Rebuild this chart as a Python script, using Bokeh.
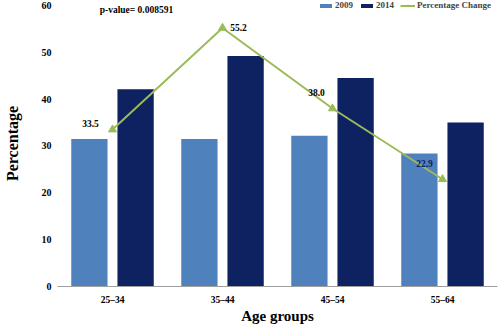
from bokeh.plotting import figure
from bokeh.models import (FactorRange, Range1d, FixedTicker, ColumnDataSource,
                          Legend, LegendItem, Label, LabelSet)
from bokeh.transform import dodge
from bokeh.embed import file_html
from bokeh.resources import INLINE

categories = ["25–34", "35–44", "45–54", "55–64"]
values_2009 = [31.5, 31.5, 32.2, 28.4]
values_2014 = [42.1, 49.2, 44.5, 35.0]
pct_change = [33.5, 55.2, 38.0, 22.9]
pct_labels = ["33.5", "55.2", "38.0", "22.9"]
y_ticks = [0, 10, 20, 30, 40, 50, 60]

# label placement (style, in screen px)
label_dx = [-22, 16, -16, -18]
label_dy = [6, 0, 16, 16]
label_colors = ["#000000", "#000000", "#000000", "#0E2160"]

FONT = "Liberation Serif"
C2009 = "#4F81BD"
C2014 = "#0E2160"
CLINE = "#9BBB59"

src = ColumnDataSource(dict(cat=categories, v09=values_2009, v14=values_2014,
                            pc=pct_change, lab=pct_labels, dx=label_dx, dy=label_dy,
                            lc=label_colors))

p = figure(width=500, height=326, x_range=FactorRange(*categories, range_padding=0),
           y_range=Range1d(0, 61.06), output_backend="svg", toolbar_location=None,
           min_border_left=57, min_border_right=3, min_border_top=0, min_border_bottom=39)
p.outline_line_color = None
p.grid.visible = False
p.background_fill_color = "white"

r09 = p.vbar(x=dodge("cat", -0.21, range=p.x_range), top="v09", width=0.33,
             source=src, color=C2009, line_color=None)
r14 = p.vbar(x=dodge("cat", 0.21, range=p.x_range), top="v14", width=0.33,
             source=src, color=C2014, line_color=None)
rl = p.line(x="cat", y="pc", source=src, line_color=CLINE, line_width=2)
rm = p.scatter(x="cat", y="pc", source=src, marker="triangle", size=8,
               fill_color=CLINE, line_color=CLINE)

labels = LabelSet(x="cat", y="pc", text="lab", source=src, x_offset="dx", y_offset="dy",
                  text_align="center", text_baseline="middle", text_font=FONT,
                  text_font_style="bold", text_font_size="9.5px", text_color="lc")
p.add_layout(labels)

p.add_layout(Label(x=0.718, y=59, text="p-value= 0.008591", text_align="center",
                   text_baseline="middle", text_font=FONT, text_font_style="bold",
                   text_font_size="9.5px", text_color="black"))

# axes
for ax in (p.xaxis, p.yaxis):
    ax.major_tick_line_color = None
    ax.minor_tick_line_color = None
    ax.major_tick_out = 0
    ax.major_tick_in = 0
    ax.minor_tick_out = 0
    ax.major_label_text_font = FONT
    ax.major_label_text_font_style = "bold"
    ax.major_label_text_color = "black"
    ax.axis_label_text_font = FONT
    ax.axis_label_text_font_style = "bold"
    ax.axis_label_text_color = "black"

p.yaxis.ticker = FixedTicker(ticks=y_ticks)
p.yaxis.axis_line_color = None
p.yaxis.major_label_standoff = 6
p.yaxis.major_label_text_font_size = "10px"
p.yaxis.axis_label = "Percentage"
p.yaxis.axis_label_text_font_size = "16px"
p.yaxis.axis_label_standoff = 18

p.xaxis.axis_line_color = "#A0A0A0"
p.xaxis.major_label_standoff = 8
p.xaxis.major_label_text_font_size = "9.5px"
p.xaxis.axis_label = "Age groups"
p.xaxis.axis_label_text_font_size = "15px"
p.xaxis.axis_label_standoff = 0

legend = Legend(items=[LegendItem(label="2009", renderers=[r09]),
                       LegendItem(label="2014", renderers=[r14]),
                       LegendItem(label="Percentage Change", renderers=[rl, rm])],
                orientation="horizontal", location=(261, 276),
                glyph_width=15, glyph_height=5, label_text_font=FONT,
                label_text_font_style="bold", label_text_font_size="9px",
                label_standoff=2, label_width=0, spacing=6, padding=0, margin=0,
                border_line_color=None, background_fill_alpha=0, label_height=8)
p.add_layout(legend)

open("out.html", "w").write(file_html(p, INLINE))
